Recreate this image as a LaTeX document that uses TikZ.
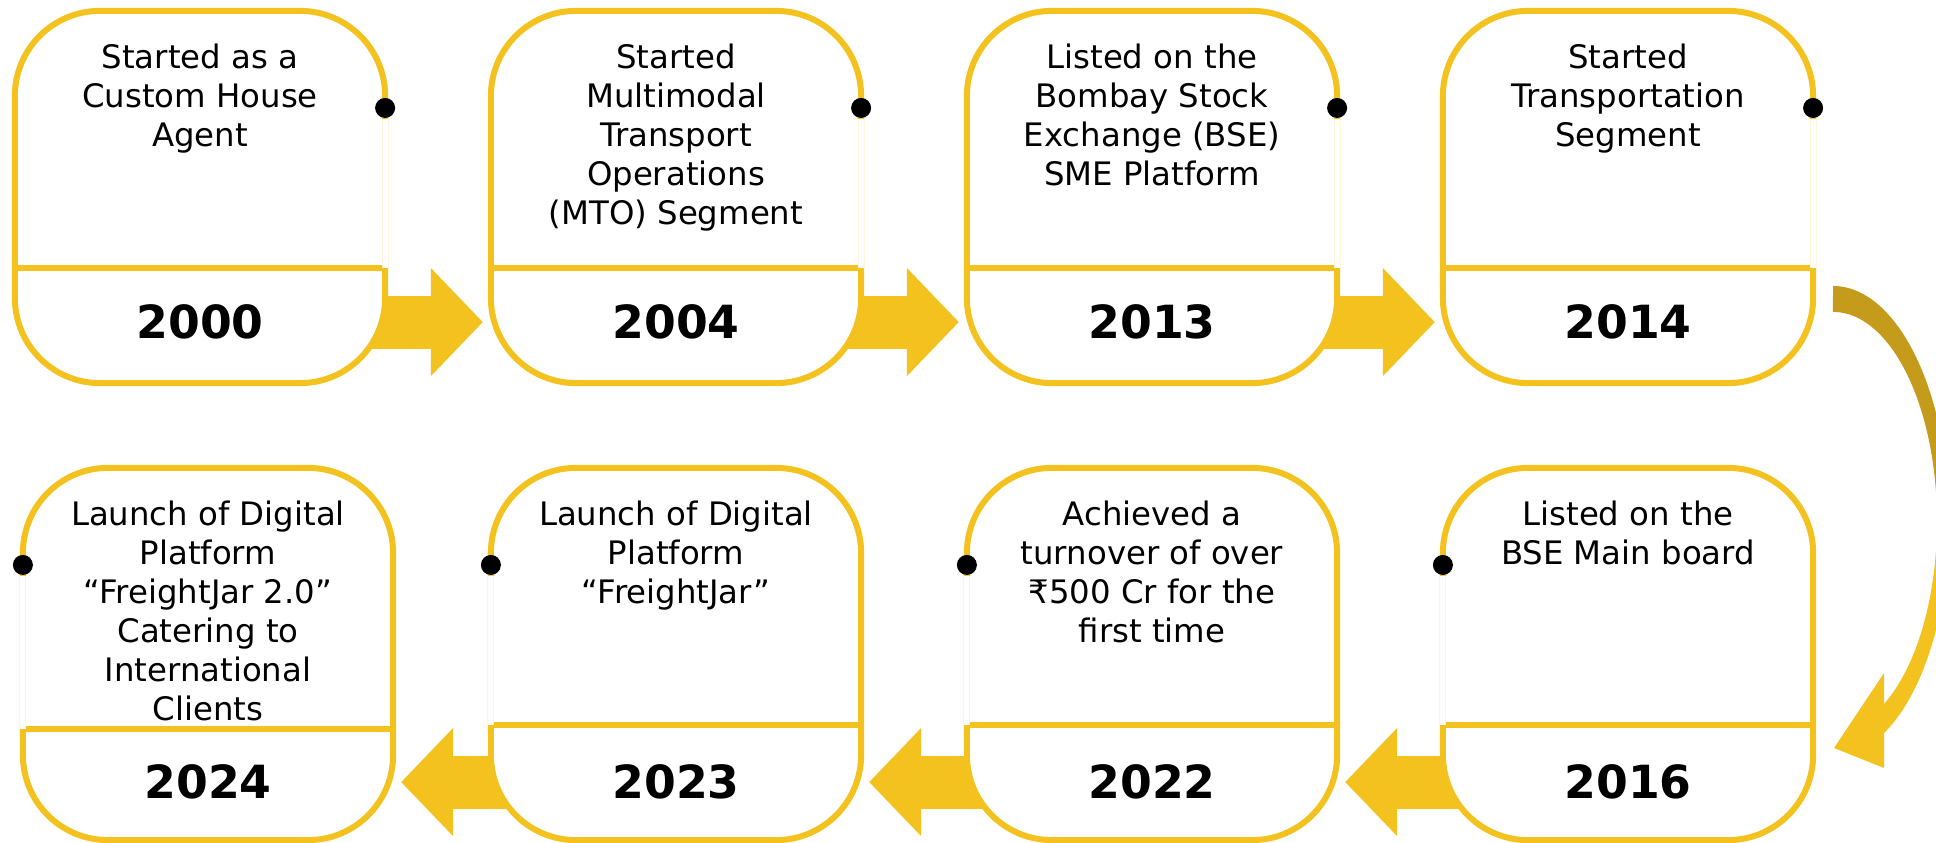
\documentclass[tikz,border=0pt]{standalone}
\usepackage{fontspec}
\setmainfont{DejaVu Sans}
\usetikzlibrary{arrows.meta,backgrounds}
\definecolor{tlyellow}{RGB}{244,194,30}
\definecolor{tldark}{RGB}{196,155,26}
\tikzset{
  card/.style={draw=tlyellow, line width=0.06cm, fill=white, rounded corners=0.85cm,
    minimum width=3.7cm, minimum height=3.72cm, inner sep=0, outer sep=0},
  desc/.style={anchor=north, align=center, inner sep=0, font=\fontsize{9.2}{11.1}\selectfont},
  year/.style={inner sep=0, font=\fontsize{13}{15}\selectfont\bfseries},
  sepline/.style={draw=tlyellow, line width=0.06cm},
  gapline/.style={draw=tlyellow!15, line width=0.3pt, double=white, double distance=0.05cm},
  dot/.style={circle, fill=black, inner sep=0, minimum size=0.2cm},
  blockarrow/.style={draw=tlyellow, line width=0.53cm,
    -{Triangle[length=0.52cm,width=1.05cm]}, shorten >=0.08cm}
}
\begin{document}
\begin{tikzpicture}[x=0.01cm, y=-0.01cm]
\useasboundingbox (0,0) rectangle (1936,843);

% cards, top row left to right, bottom row right to left
\node[card] (c1) at (200,197) {};
\node[card] (c2) at (676,197) {};
\node[card] (c3) at (1152,197) {};
\node[card] (c4) at (1628,197) {};
\node[card] (c5) at (1628,654) {};
\node[card] (c6) at (1152,654) {};
\node[card] (c7) at (676,654) {};
\node[card] (c8) at (208,654) {};

% texts
\node[desc] (t1) at ([yshift=-0.32cm]c1.north) {Started as a\\Custom House\\Agent};
\node[desc] (t2) at ([yshift=-0.32cm]c2.north) {Started\\Multimodal\\Transport\\Operations\\(MTO) Segment};
\node[desc] (t3) at ([yshift=-0.32cm]c3.north) {Listed on the\\Bombay Stock\\Exchange (BSE)\\SME Platform};
\node[desc] (t4) at ([yshift=-0.32cm]c4.north) {Started\\Transportation\\Segment};
\node[desc] (t5) at ([yshift=-0.32cm]c5.north) {Listed on the\\BSE Main board};
\node[desc] (t6) at ([yshift=-0.32cm]c6.north) {Achieved a\\turnover of over\\₹500 Cr for the\\first time};
\node[desc] (t7) at ([yshift=-0.32cm]c7.north) {Launch of Digital\\Platform\\“FreightJar”};
\node[desc] (t8) at ([yshift=-0.32cm]c8.north) {Launch of Digital\\Platform\\“FreightJar 2.0”\\Catering to\\International\\Clients};

% dividers
\draw[sepline] ([yshift=-2.57cm]c1.north west) -- ([yshift=-2.57cm]c1.north east) coordinate (s1);
\draw[sepline] ([yshift=-2.57cm]c2.north west) -- ([yshift=-2.57cm]c2.north east) coordinate (s2);
\draw[sepline] ([yshift=-2.57cm]c3.north west) -- ([yshift=-2.57cm]c3.north east) coordinate (s3);
\draw[sepline] ([yshift=-2.57cm]c4.north west) -- ([yshift=-2.57cm]c4.north east) coordinate (s4);
\draw[sepline] ([yshift=-2.57cm]c5.north east) -- ([yshift=-2.57cm]c5.north west) coordinate (s5);
\draw[sepline] ([yshift=-2.57cm]c6.north east) -- ([yshift=-2.57cm]c6.north west) coordinate (s6);
\draw[sepline] ([yshift=-2.57cm]c7.north east) -- ([yshift=-2.57cm]c7.north west) coordinate (s7);
\draw[sepline] ([yshift=-2.61cm]c8.north east) -- ([yshift=-2.61cm]c8.north west) coordinate (s8);

% dots on the card edges
\node[dot] (d1) at ([yshift=-0.97cm]c1.north east) {};
\node[dot] (d2) at ([yshift=-0.97cm]c2.north east) {};
\node[dot] (d3) at ([yshift=-0.97cm]c3.north east) {};
\node[dot] (d4) at ([yshift=-0.97cm]c4.north east) {};
\node[dot] (d5) at ([yshift=-0.97cm]c5.north west) {};
\node[dot] (d6) at ([yshift=-0.97cm]c6.north west) {};
\node[dot] (d7) at ([yshift=-0.97cm]c7.north west) {};
\node[dot] (d8) at ([yshift=-0.97cm]c8.north west) {};
\draw[gapline] (d1.south) -- (s1);
\draw[gapline] (d2.south) -- (s2);
\draw[gapline] (d3.south) -- (s3);
\draw[gapline] (d4.south) -- (s4);
\draw[gapline] (d5.south) -- (s5);
\draw[gapline] (d6.south) -- (s6);
\draw[gapline] (d7.south) -- (s7);
\draw[gapline] (d8.south) -- (s8);

% years
\node[year] (y1) at ([yshift=0.61cm]c1.south) {2000};
\node[year] (y2) at ([yshift=0.61cm]c2.south) {2004};
\node[year] (y3) at ([yshift=0.61cm]c3.south) {2013};
\node[year] (y4) at ([yshift=0.61cm]c4.south) {2014};
\node[year] (y5) at ([yshift=0.58cm]c5.south) {2016};
\node[year] (y6) at ([yshift=0.58cm]c6.south) {2022};
\node[year] (y7) at ([yshift=0.58cm]c7.south) {2023};
\node[year] (y8) at ([yshift=0.58cm]c8.south) {2024};

% block arrows behind the cards
\begin{scope}[on background layer]
  \draw[blockarrow] (y1) -- (y1 -| c2.west);
  \draw[blockarrow] (y2) -- (y2 -| c3.west);
  \draw[blockarrow] (y3) -- (y3 -| c4.west);
  \draw[blockarrow] (y5) -- (y5 -| c6.east);
  \draw[blockarrow] (y6) -- (y6 -| c7.east);
  \draw[blockarrow] (y7) -- (y7 -| c8.east);
\end{scope}

% curved arrow from 2014 down to 2016
\fill[tldark] (1833,286) arc[start angle=90, end angle=0, x radius=1.16cm, y radius=2.355cm]
  -- (1937,521.5) arc[start angle=0, end angle=90, x radius=1.04cm, y radius=2.095cm] -- cycle;
\fill[tlyellow] (1949,521.5) arc[start angle=0, end angle=-63.9, x radius=1.16cm, y radius=2.355cm]
  -- (1884,704) arc[start angle=-60.6, end angle=0, x radius=1.04cm, y radius=2.095cm] -- cycle;
\fill[tlyellow] (1884,673) -- (1834,748) -- (1884,768) -- cycle;
\end{tikzpicture}
\end{document}
